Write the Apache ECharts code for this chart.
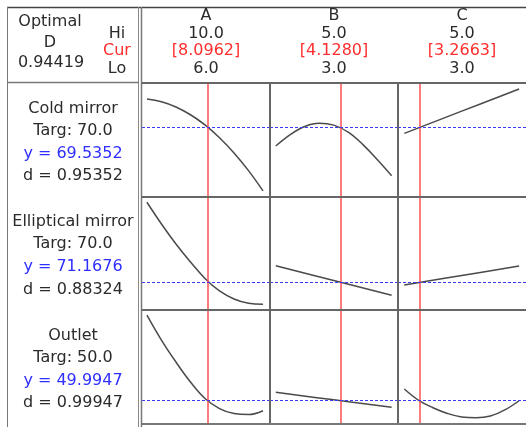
<!DOCTYPE html>
<html>
<head>
<meta charset="utf-8">
<script src="https://cdn.jsdelivr.net/npm/echarts@6/dist/echarts.min.js"></script>
<style>
html,body{margin:0;padding:0;background:#fff;}
#chart{width:526px;height:427px;}
</style>
</head>
<body>
<div id="chart"></div>
<script>
// ---- data ----
const factors = ['A', 'B', 'C'];
const factorHi = [10.0, 5.0, 5.0];
const factorLo = [6.0, 3.0, 3.0];
const factorCur = [8.0962, 4.1280, 3.2663];
const responses = ['Cold mirror', 'Elliptical mirror', 'Outlet'];
const targets = [70.0, 70.0, 50.0];
const yCur = [69.5352, 71.1676, 49.9947];
const dVals = [0.95352, 0.88324, 0.99947];
const optimalD = 0.94419;

const xA = [6, 6.5, 7, 7.5, 8, 8.5, 9, 9.5, 10];
const xB = [3, 3.25, 3.5, 3.75, 4, 4.25, 4.5, 4.75, 5];
const xLine = [3, 4, 5];

const coldA = [72.37, 72.09, 71.57, 70.79, 69.77, 68.49, 66.97, 65.20, 63.17];
const coldB = [67.66, 68.80, 69.61, 69.93, 69.75, 69.05, 67.83, 66.31, 64.70];
const coldC = [68.93, 71.15, 73.36];
const ellA = [79.17, 77.00, 75.00, 73.20, 71.55, 70.30, 69.50, 69.07, 68.97];
const ellB = [72.83, 71.35, 69.87];
const ellC = [70.90, 71.85, 72.80];
const outA = [58.56, 56.06, 53.86, 51.86, 50.21, 49.21, 48.71, 48.61, 48.99];
const outB = [50.83, 50.08, 49.33];
const outC = [51.16, 50.03, 49.29, 48.72, 48.37, 48.30, 48.47, 49.07, 49.99];

// ---- layout ----
const colLeft = [142, 270, 398];
const colW = 128;
const rowTop = [83, 197, 310];
const rowH = [114, 113, 114];
const xRange = [[5.83, 10.24], [2.90, 5.11], [2.89, 5.12]];
const yRange = [[62.565, 73.965], [68.3976, 79.698], [47.6647, 59.0647]];

const curves = [
  [[xA, coldA], [xB, coldB], [xLine, coldC]],
  [[xA, ellA], [xLine, ellB], [xLine, ellC]],
  [[xA, outA], [xLine, outB], [xB, outC]]
];

const FONT = '"DejaVu Sans", sans-serif';
const TXT = '#2b2b2b', RED = '#ff2e2e', BLUE = '#2f2fff';

const grids = [], xAxes = [], yAxes = [], series = [];
let gi = 0;
for (let r = 0; r < 3; r++) {
  for (let c = 0; c < 3; c++) {
    grids.push({left: colLeft[c], top: rowTop[r], width: colW, height: rowH[r], show: false});
    xAxes.push({type: 'value', gridIndex: gi, min: xRange[c][0], max: xRange[c][1], show: false});
    yAxes.push({type: 'value', gridIndex: gi, min: yRange[r][0], max: yRange[r][1], show: false});
    const [xs, ys] = curves[r][c];
    series.push({
      type: 'line', xAxisIndex: gi, yAxisIndex: gi,
      data: xs.map((x, i) => [x, ys[i]]),
      smooth: 0.4, showSymbol: false, silent: true,
      lineStyle: {color: '#4a4a4a', width: 1.5},
      markLine: {
        silent: true, symbol: 'none', label: {show: false}, animation: false,
        data: [
          {xAxis: factorCur[c], lineStyle: {color: '#ff5050', width: 1.5, type: 'solid'}},
          {yAxis: yCur[r], lineStyle: {color: '#3a3aff', width: 1.2, type: [3, 2]}}
        ]
      },
      z: 3
    });
    gi++;
  }
}

const g = [];
function line(x1, y1, x2, y2, stroke, w) {
  g.push({type: 'line', shape: {x1, y1, x2, y2}, style: {stroke, lineWidth: w}, z: 100, silent: true});
}
function text(t, x, y, color) {
  g.push({type: 'text', x, y, style: {text: t, fill: color, font: '16px ' + FONT, textAlign: 'center', textVerticalAlign: 'middle'}, z: 101, silent: true});
}

// frame
line(7, 7.5, 526, 7.5, '#444', 1.5);
line(7.5, 7, 7.5, 427, '#777', 1);
line(138.5, 7, 138.5, 427, '#888', 1);
line(141.5, 7, 141.5, 427, '#777', 1.5);
line(7, 82.5, 139, 82.5, '#777', 1.5);
line(142, 83, 526, 83, '#666', 2);
line(270, 83, 270, 424, '#666', 2);
line(398, 83, 398, 424, '#666', 2);
line(142, 197, 526, 197, '#666', 2);
line(142, 310, 526, 310, '#666', 2);
line(142, 424, 526, 424, '#777', 2);

// header left
text('Optimal', 50, 22, TXT);
text('D', 50, 43, TXT);
text(optimalD.toFixed(5), 51, 63, TXT);
text('Hi', 117, 34, TXT);
text('Cur', 117, 51, RED);
text('Lo', 117, 69, TXT);

// factor headers
for (let c = 0; c < 3; c++) {
  const cx = colLeft[c] + colW / 2;
  text(factors[c], cx, 16, TXT);
  text(factorHi[c].toFixed(1), cx, 34, TXT);
  text('[' + factorCur[c].toFixed(4) + ']', cx, 51, RED);
  text(factorLo[c].toFixed(1), cx, 69, TXT);
}

// response labels
for (let r = 0; r < 3; r++) {
  const cy = rowTop[r] + rowH[r] / 2 + 2;
  text(responses[r], 73, cy - 33.5, TXT);
  text('Targ: ' + targets[r].toFixed(1), 73, cy - 11.5, TXT);
  text('y = ' + yCur[r].toFixed(4), 73, cy + 11.5, BLUE);
  text('d = ' + dVals[r].toFixed(5), 73, cy + 34, TXT);
}

const chart = echarts.init(document.getElementById('chart'), null, {renderer: 'canvas'});
chart.setOption({
  animation: false,
  backgroundColor: '#fff',
  grid: grids, xAxis: xAxes, yAxis: yAxes, series: series,
  graphic: g
});
</script>
</body>
</html>
